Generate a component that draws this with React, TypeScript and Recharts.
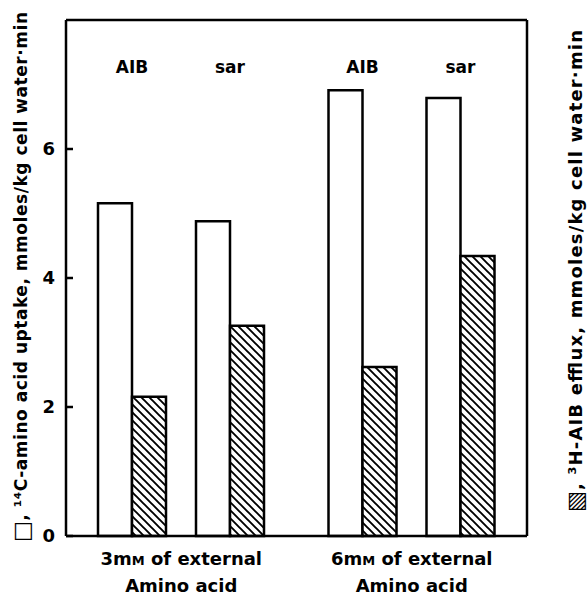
import { BarChart, Bar, XAxis, YAxis, ReferenceLine, LabelList } from "recharts";

/* ===== data ===== */
const groupLabels = [
  ["3mM of external", "Amino acid"],
  ["6mM of external", "Amino acid"],
];
const aminoAcids = ["AIB", "sar"];
const aibUptake = [5.16, 6.91];
const aibEfflux = [2.16, 2.62];
const sarUptake = [4.88, 6.79];
const sarEfflux = [3.26, 4.34];
const yTicks = [0, 2, 4, 6];
const yDomain = [0, 8];

const leftSymbol = "\u25A1";
const leftTitle = ", \u00B9\u2074C-amino acid uptake, mmoles/kg cell water\u00B7min";
const rightSymbol = "\u25A7";
const rightTitle = ", \u00B3H-AIB efflux, mmoles/kg cell water\u00B7min";

const rows = groupLabels.map((g, i) => ({
  group: g.join("|"),
  aibUptake: aibUptake[i],
  aibEfflux: aibEfflux[i],
  sarUptake: sarUptake[i],
  sarEfflux: sarEfflux[i],
}));

const FONT = "'DejaVu Sans', sans-serif";
const INK = "#000";

/* ===== ticks ===== */
const LeftTick = ({ x, y, payload }: any) => (
  <g>
    <line x1={x} y1={y} x2={x + 7} y2={y} stroke={INK} strokeWidth={2.5} />
    <text x={x - 11} y={y} dy="0.36em" textAnchor="end" fontFamily={FONT} fontWeight="bold" fontSize={18} fill={INK}>
      {payload.value}
    </text>
  </g>
);

const RightTick = ({ x, y, payload }: any) => (
  <g>
    <line x1={x} y1={y} x2={x - 7} y2={y} stroke={INK} strokeWidth={2.5} />
    <text x={x + 10} y={y} dy="0.36em" textAnchor="start" fontFamily={FONT} fontWeight="bold" fontSize={18} fill={INK}>
      {payload.value}
    </text>
  </g>
);

const GroupTick = ({ x, y, payload }: any) => {
  const [first, second] = String(payload.value).split("|");
  const [pre, post] = first.split("mM");
  return (
    <text x={x} textAnchor="middle" fontFamily={FONT} fontWeight="bold" fontSize={18} fill={INK}>
      <tspan x={x} y={y + 29}>
        {pre}m<tspan fontSize={13}>M</tspan>
        {post}
      </tspan>
      <tspan x={x} y={y + 56}>{second}</tspan>
    </text>
  );
};

/* ===== labels ===== */
const AcidLabel = (name: string) => (props: any) => {
  const { x, width } = props;
  return (
    <text x={Number(x) + Number(width)} y={73} textAnchor="middle" fontFamily={FONT} fontWeight="bold" fontSize={17} fill={INK}>
      {name}
    </text>
  );
};

// rotated title; cy is the centre of the text along the page
const AxisTitle = ({ viewBox, symbol, text, dx, cy, len, size }: any) => {
  const cx = viewBox.x + dx;
  return (
    <text
      x={cx}
      y={cy}
      transform={`rotate(-90, ${cx}, ${cy})`}
      textAnchor="middle"
      dominantBaseline="central"
      textLength={len}
      lengthAdjust="spacing"
      fontFamily={FONT}
      fontWeight="bold"
      fontSize={size}
      fill={INK}
    >
      <tspan fontSize={22}>{symbol}</tspan>
      {text}
    </text>
  );
};

export default function App() {
  return (
    <div style={{ position: "absolute", left: 0, top: 0, background: "#fff" }}>
      <BarChart
        width={588}
        height={595}
        data={rows}
        margin={{ top: 20, right: 0, bottom: 0, left: 0 }}
        barGap={0}
        barCategoryGap={0}
      >
        <defs>
          <pattern id="hatch" patternUnits="userSpaceOnUse" width={8} height={8}>
            <rect width={8} height={8} fill="#fff" />
            <path d="M-2,-2 L10,10 M-2,6 L2,10 M6,-2 L10,2" stroke={INK} strokeWidth={1.9} />
          </pattern>
        </defs>
        <XAxis
          dataKey="group"
          height={59}
          tickLine={false}
          tickSize={0}
          tickMargin={0}
          axisLine={{ stroke: INK, strokeWidth: 2.5 }}
          tick={<GroupTick />}
          interval={0}
        />
        <YAxis
          yAxisId="left"
          width={66}
          domain={yDomain}
          ticks={yTicks}
          tickLine={false}
          tickSize={0}
          tickMargin={0}
          axisLine={{ stroke: INK, strokeWidth: 2.5 }}
          tick={<LeftTick />}
          label={<AxisTitle symbol={leftSymbol} text={leftTitle} dx={21} cy={277} len={530} size={17} />}
        />
        <YAxis
          yAxisId="right"
          orientation="right"
          width={61}
          domain={yDomain}
          ticks={yTicks}
          tickLine={false}
          tickSize={0}
          tickMargin={0}
          axisLine={{ stroke: INK, strokeWidth: 2.5 }}
          tick={<RightTick />}
          label={<AxisTitle symbol={rightSymbol} text={rightTitle} dx={48} cy={271} len={482} size={18} />}
        />
        <ReferenceLine yAxisId="left" y={yDomain[1]} stroke={INK} strokeWidth={2.5} />
        <Bar yAxisId="left" dataKey="aibUptake" barSize={34} fill="#fff" stroke={INK} strokeWidth={2.5} isAnimationActive={false}>
          <LabelList dataKey="aibUptake" content={AcidLabel(aminoAcids[0])} />
        </Bar>
        <Bar yAxisId="left" dataKey="aibEfflux" barSize={34} fill="url(#hatch)" stroke={INK} strokeWidth={2.5} isAnimationActive={false} />
        <Bar yAxisId="left" dataKey="spacer" barSize={30} fill="none" isAnimationActive={false} />
        <Bar yAxisId="left" dataKey="sarUptake" barSize={34} fill="#fff" stroke={INK} strokeWidth={2.5} isAnimationActive={false}>
          <LabelList dataKey="sarUptake" content={AcidLabel(aminoAcids[1])} />
        </Bar>
        <Bar yAxisId="left" dataKey="sarEfflux" barSize={34} fill="url(#hatch)" stroke={INK} strokeWidth={2.5} isAnimationActive={false} />
      </BarChart>
    </div>
  );
}
